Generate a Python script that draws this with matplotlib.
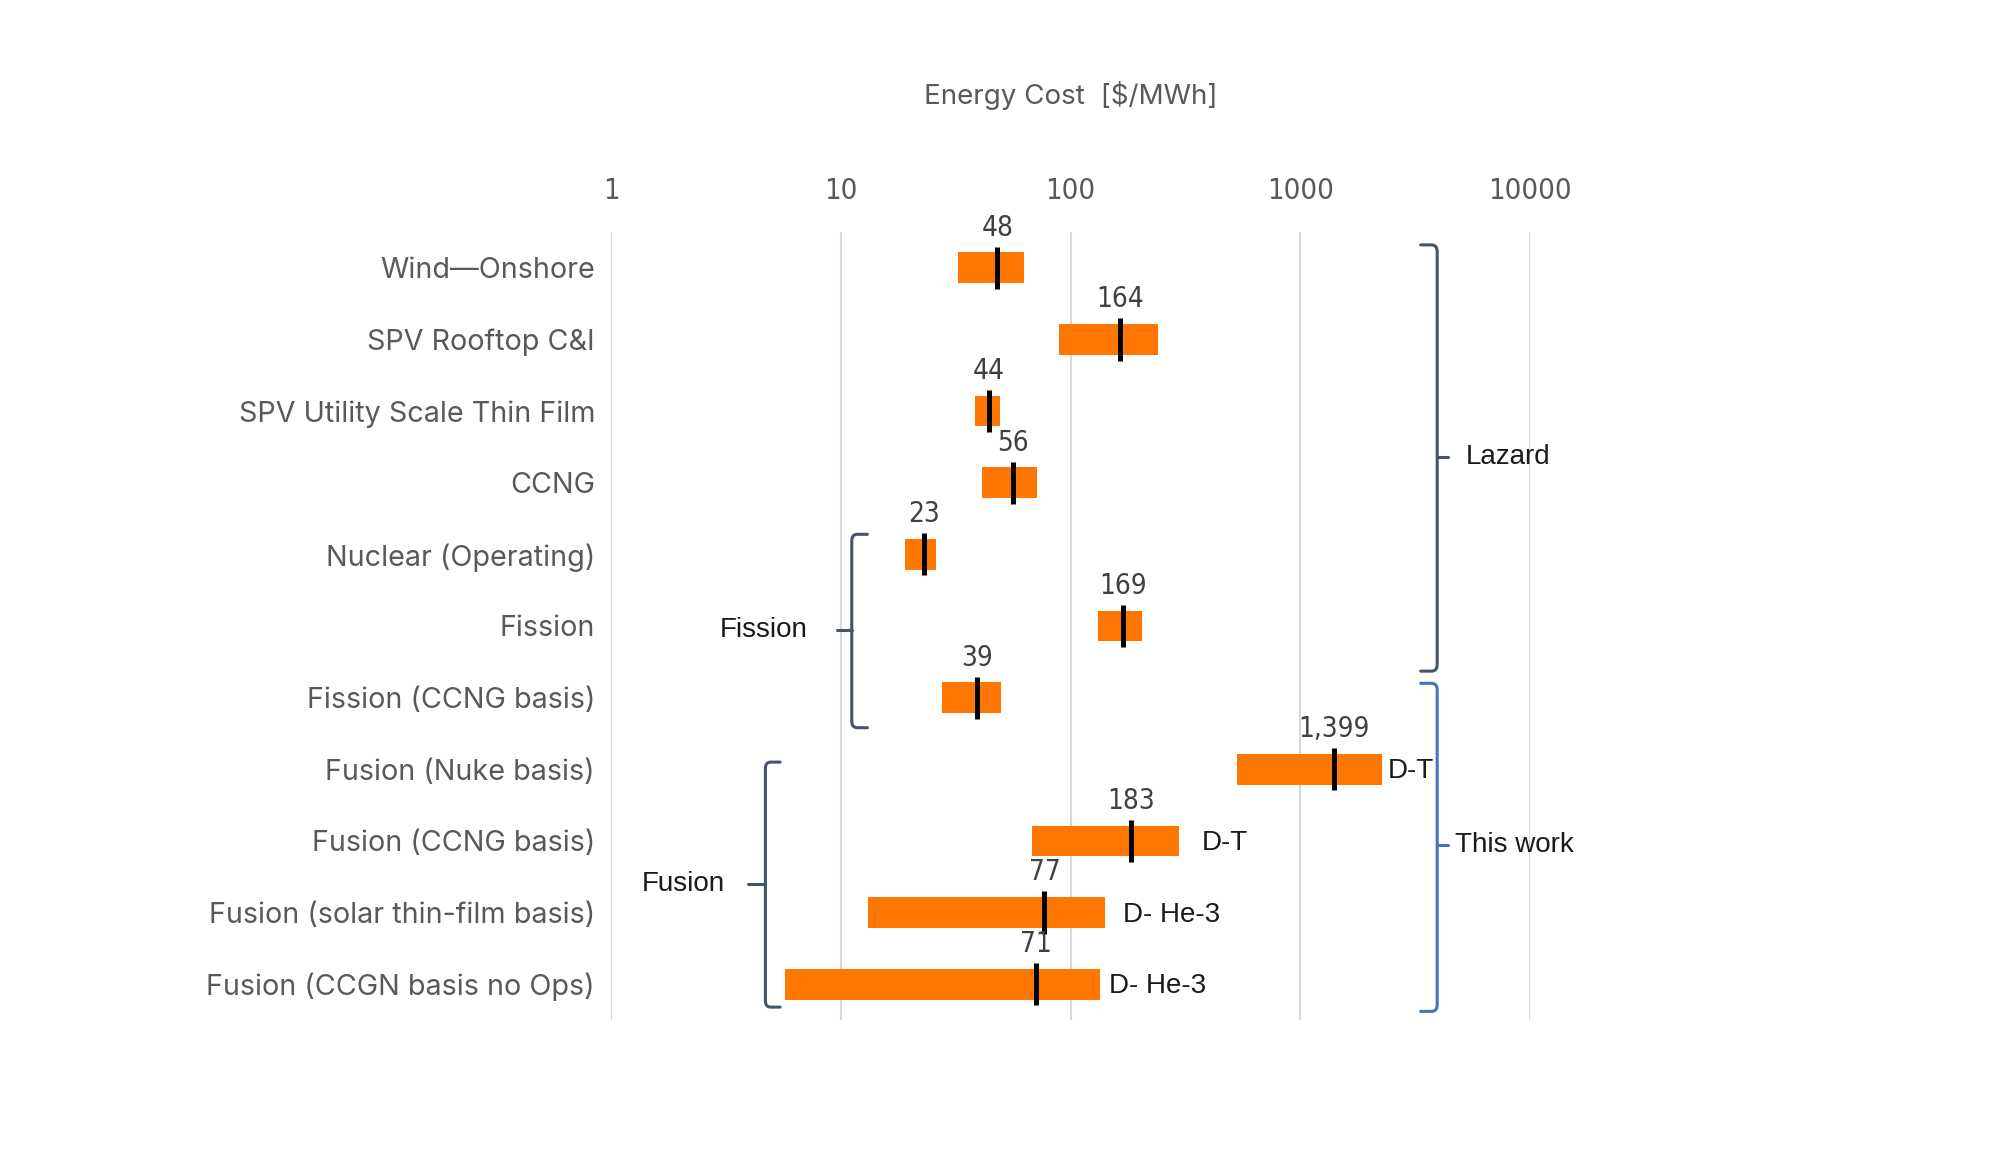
import matplotlib
matplotlib.use('Agg')
import matplotlib.pyplot as plt
import numpy as np
from matplotlib.path import Path
from matplotlib.patches import PathPatch
import matplotlib.transforms as mtransforms

# ---------------- data ----------------
categories = ["Wind\u2014Onshore", "SPV Rooftop C&I", "SPV Utility Scale Thin Film", "CCNG",
              "Nuclear (Operating)", "Fission", "Fission (CCNG basis)", "Fusion (Nuke basis)",
              "Fusion (CCNG basis)", "Fusion (solar thin-film basis)", "Fusion (CCGN basis no Ops)"]
low = [32.4, 88.7, 38.3, 41.3, 19.0, 131.7, 27.5, 528, 67.9, 13.1, 5.7]
high = [62.9, 240, 49.4, 71.4, 26.1, 205.6, 50.0, 2258, 298, 142, 135]
central = [48, 164, 44, 56, 23, 169, 39, 1399, 183, 77, 71]
fuel_labels = ["", "", "", "", "", "", "", "D-T", "D-T", "D- He-3", "D- He-3"]
xticks = [1, 10, 100, 1000, 10000]
axis_title = "Energy Cost  [$/MWh]"

groups_right = [("Lazard", -0.32, 5.63, 2.64, '#44546A'),
                ("This work", 5.80, 10.38, 8.06, '#4472C4')]
groups_left = [("Fission", 3.72, 6.42, 5.06, '#44546A'),
               ("Fusion", 6.90, 10.32, 8.60, '#44546A')]

# ---------------- styling ----------------
W, H, DPI = 19.92, 11.67, 100
BAR_COLOR = '#FF7700'
GRID_COLOR = '#D9D9D9'
TEXT_GRAY = '#595959'
NARROW = dict(family=['DejaVu Sans'], stretch='condensed')
CAT_FONT = ['Inter', 'DejaVu Sans']
ARIAL = ['Liberation Sans', 'DejaVu Sans']

fig = plt.figure(figsize=(W, H), dpi=DPI)
ax = fig.add_axes([611 / 1992, 1 - 1020 / 1167, 919 / 1992, (1020 - 232) / 1167])

y = np.arange(len(categories))
lo = np.array(low)
hi = np.array(high)
ax.barh(y, hi - lo, left=lo, height=0.43, color=BAR_COLOR, zorder=2)
ax.vlines(central, y - 0.295, y + 0.295, color='black', linewidth=3.6, zorder=3)

for yi, c in zip(y, central):
    ax.text(c, yi - 0.56, f"{c:,}", ha='center', va='center', fontsize=20,
            color='#404040', zorder=4, **NARROW)

fuel_offsets = [0, 0, 0, 0, 0, 0, 0, 6, 22, 18, 9]
for yi, h, lab, off in zip(y, hi, fuel_labels, fuel_offsets):
    if lab:
        ax.annotate(lab, (h, yi + 0.03), xytext=(off, 0), textcoords='offset pixels',
                    ha='left', va='center', fontsize=20, family=ARIAL, color='#1a1a1a')

ax.set_xscale('log')
ax.set_xlim(1, 10000)
ax.set_ylim(len(categories) - 0.5, -0.5)
ax.set_xticks(xticks)
ax.set_xticklabels([str(t) for t in xticks], fontsize=21, color=TEXT_GRAY, **NARROW)
ax.minorticks_off()
ax.xaxis.tick_top()
ax.tick_params(axis='x', length=0, pad=19.5)
ax.set_yticks(y)
ax.set_yticklabels(categories, family=CAT_FONT, fontsize=20.7, color=TEXT_GRAY)
ax.tick_params(axis='y', length=0, pad=11.5)
for s in ax.spines.values():
    s.set_visible(False)
ax.grid(axis='x', color=GRID_COLOR, linewidth=1.5, zorder=0)
ax.set_axisbelow(True)

fig.text(1071 / 1992, 1 - 95 / 1167, axis_title, ha='center', va='center',
         family=CAT_FONT, fontsize=20, color=TEXT_GRAY)

trans = mtransforms.blended_transform_factory(ax.transAxes, ax.transData)


def brace(xv, xs, xt, y0, y1, yt, color):
    r = 0.09
    d = np.sign(xs - xv)
    rx = abs(xs - xv) * 0.35
    verts = [(xs, y0), (xv + d * rx, y0), (xv, y0), (xv, y0 + r),
             (xv, yt), (xv, y1 - r), (xv, y1), (xv + d * rx, y1), (xs, y1)]
    codes = [Path.MOVETO, Path.LINETO, Path.CURVE3, Path.CURVE3,
             Path.LINETO, Path.LINETO, Path.CURVE3, Path.CURVE3, Path.LINETO]
    ax.add_patch(PathPatch(Path(verts, codes), transform=trans, fill=False,
                           edgecolor=color, linewidth=2.2, clip_on=False,
                           capstyle='round', joinstyle='round', zorder=5))
    ax.plot([xv, xt], [yt, yt], transform=trans, color=color, linewidth=2.2,
            clip_on=False, solid_capstyle='round', zorder=5)


for (name, y0, y1, yt, col), (xv, xs, xt, xl) in zip(
        groups_right, [(0.899, 0.881, 0.911, 0.930), (0.899, 0.881, 0.911, 0.918)]):
    brace(xv, xs, xt, y0, y1, yt, col)
    ax.text(xl, yt, name, transform=trans, ha='left', va='center', fontsize=20,
            family=ARIAL, color='#1a1a1a', zorder=6)

for (name, y0, y1, yt, col), (xv, xs, xt, xl) in zip(
        groups_left, [(0.262, 0.279, 0.246, 0.214), (0.168, 0.184, 0.149, 0.124)]):
    brace(xv, xs, xt, y0, y1, yt, col)
    ax.text(xl, yt, name, transform=trans, ha='right', va='center', fontsize=20,
            family=ARIAL, color='#1a1a1a', zorder=6)

fig.savefig('out.png', dpi=DPI)
